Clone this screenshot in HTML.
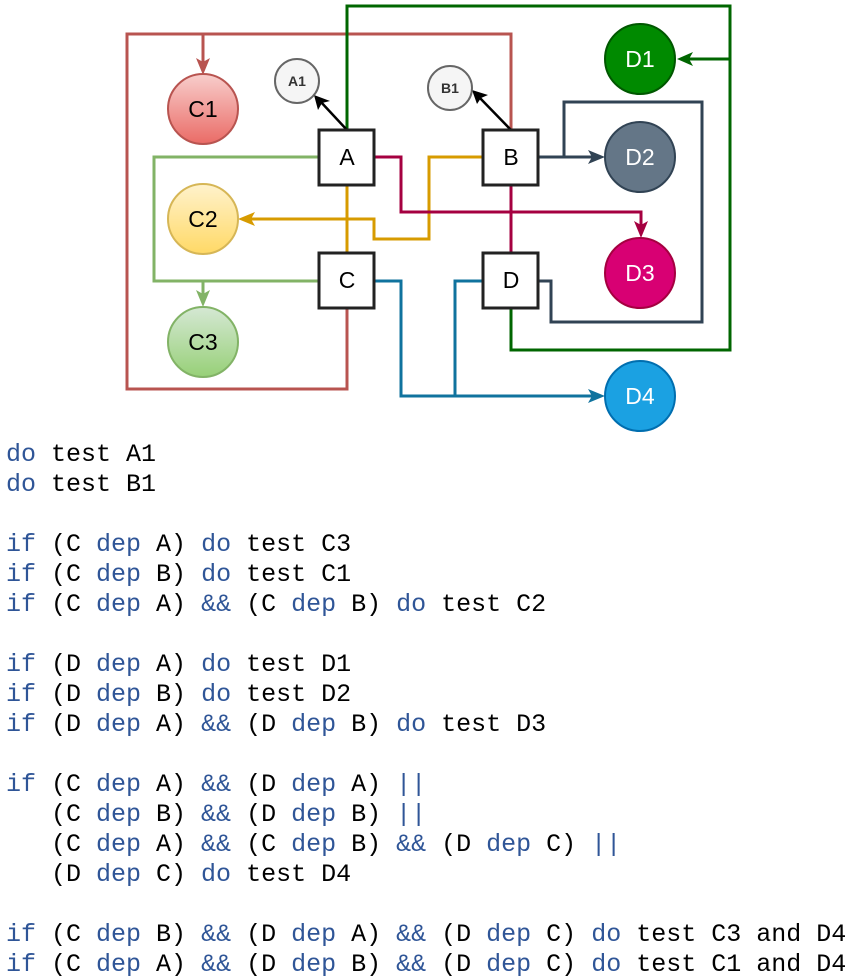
<!DOCTYPE html>
<html><head><meta charset="utf-8"><style>
html,body{margin:0;padding:0;background:#fff;width:854px;height:979px;overflow:hidden}
svg{position:absolute;left:0;top:0}
pre{position:absolute;left:6px;top:440px;margin:0;font-family:"Liberation Mono",monospace;font-size:25px;line-height:30px;color:#000}
.k{color:#2f5597}
</style></head><body>
<svg width="854" height="440" viewBox="0 0 854 440">
<defs>
<linearGradient id="g1" x1="0" y1="0" x2="0" y2="1"><stop offset="0" stop-color="#f8cecc"/><stop offset="1" stop-color="#ea6b66"/></linearGradient>
<linearGradient id="g2" x1="0" y1="0" x2="0" y2="1"><stop offset="0" stop-color="#fff2cc"/><stop offset="1" stop-color="#ffd966"/></linearGradient>
<linearGradient id="g3" x1="0" y1="0" x2="0" y2="1"><stop offset="0" stop-color="#d5e8d4"/><stop offset="1" stop-color="#97d077"/></linearGradient>
</defs>
<g fill="none" stroke-width="3">
<polyline points="347,308 347,389 127,389 127,34 511,34 511,130" stroke="#b85450"/>
<line x1="203" y1="34" x2="203" y2="66" stroke="#b85450"/>
<polyline points="347,130 347,6 730,6 730,350 511,350 511,308" stroke="#006600"/>
<line x1="730" y1="59" x2="686" y2="59" stroke="#006600"/>
<polyline points="319,157 154,157 154,281 319,281" stroke="#82b366"/>
<line x1="203" y1="281" x2="203" y2="299" stroke="#82b366"/>
<line x1="347" y1="185" x2="347" y2="253" stroke="#d79b00"/>
<polyline points="483,157 429,157 429,239 374,239 374,219 246,219" stroke="#d79b00"/>
<polyline points="374,157 401,157 401,212 641,212 641,229" stroke="#a50040"/>
<line x1="511" y1="185" x2="511" y2="253" stroke="#a50040"/>
<line x1="538" y1="157" x2="596" y2="157" stroke="#314354"/>
<polyline points="564,157 564,102 702,102 702,322 551,322 551,281 538,281" stroke="#314354"/>
<polyline points="374,281 401,281 401,396 596,396" stroke="#10739e"/>
<polyline points="483,281 455,281 455,396" stroke="#10739e"/>
<line x1="347" y1="130" x2="320" y2="101" stroke="#000" stroke-width="2.5"/>
<line x1="511" y1="130" x2="478" y2="96" stroke="#000" stroke-width="2.5"/>
</g>
<g stroke="none">
<polygon points="203,75 196,58 203,62 210,58" fill="#b85450"/>
<polygon points="677,59 693,52 689,59 693,66" fill="#006600"/>
<polygon points="203,307 196,290 203,294 210,290" fill="#82b366"/>
<polygon points="238,219 255,212 251,219 255,226" fill="#d79b00"/>
<polygon points="641,238 634,221 641,225 648,221" fill="#a50040"/>
<polygon points="605,157 588,150 592,157 588,164" fill="#314354"/>
<polygon points="605,396 588,389 592,396 588,403" fill="#10739e"/>
<polygon points="314,95 318,110 322,103 330,101" fill="#000"/>
<polygon points="472,90 477,104 481,98 488,95" fill="#000"/>
</g>
<g stroke-width="2" font-family="Liberation Sans,sans-serif" text-anchor="middle">
<circle cx="203" cy="109" r="35" fill="url(#g1)" stroke="#b85450"/>
<circle cx="203" cy="219" r="35" fill="url(#g2)" stroke="#d6b656"/>
<circle cx="203" cy="342" r="35" fill="url(#g3)" stroke="#82b366"/>
<circle cx="297" cy="81" r="22" fill="#f5f5f5" stroke="#666"/>
<circle cx="450" cy="88" r="22" fill="#f5f5f5" stroke="#666"/>
<circle cx="640" cy="59" r="35" fill="#008a00" stroke="#005700"/>
<circle cx="640" cy="157" r="35" fill="#647687" stroke="#314354"/>
<circle cx="640" cy="273" r="35" fill="#d80073" stroke="#a50040"/>
<circle cx="640" cy="396" r="35" fill="#1ba1e2" stroke="#006eaf"/>
<rect x="319" y="130" width="55" height="55" fill="#fff" stroke="#222" stroke-width="3"/>
<rect x="319" y="253" width="55" height="55" fill="#fff" stroke="#222" stroke-width="3"/>
<rect x="483" y="130" width="55" height="55" fill="#fff" stroke="#222" stroke-width="3"/>
<rect x="483" y="253" width="55" height="55" fill="#fff" stroke="#222" stroke-width="3"/>
<g stroke="none" font-size="23">
<text x="203" y="117">C1</text><text x="203" y="227">C2</text><text x="203" y="350">C3</text>
<text x="347" y="165">A</text><text x="347" y="288">C</text><text x="511" y="165">B</text><text x="511" y="288">D</text>
<g fill="#fff"><text x="640" y="67">D1</text><text x="640" y="165">D2</text><text x="640" y="281">D3</text><text x="640" y="404">D4</text></g>
<g font-size="14" font-weight="bold" fill="#333"><text x="297" y="86">A1</text><text x="450" y="93">B1</text></g>
</g>
</g>
</svg>
<pre><span class="k">do</span> test A1
<span class="k">do</span> test B1

<span class="k">if</span> (C <span class="k">dep</span> A) <span class="k">do</span> test C3
<span class="k">if</span> (C <span class="k">dep</span> B) <span class="k">do</span> test C1
<span class="k">if</span> (C <span class="k">dep</span> A) <span class="k">&amp;&amp;</span> (C <span class="k">dep</span> B) <span class="k">do</span> test C2

<span class="k">if</span> (D <span class="k">dep</span> A) <span class="k">do</span> test D1
<span class="k">if</span> (D <span class="k">dep</span> B) <span class="k">do</span> test D2
<span class="k">if</span> (D <span class="k">dep</span> A) <span class="k">&amp;&amp;</span> (D <span class="k">dep</span> B) <span class="k">do</span> test D3

<span class="k">if</span> (C <span class="k">dep</span> A) <span class="k">&amp;&amp;</span> (D <span class="k">dep</span> A) <span class="k">||</span>
   (C <span class="k">dep</span> B) <span class="k">&amp;&amp;</span> (D <span class="k">dep</span> B) <span class="k">||</span>
   (C <span class="k">dep</span> A) <span class="k">&amp;&amp;</span> (C <span class="k">dep</span> B) <span class="k">&amp;&amp;</span> (D <span class="k">dep</span> C) <span class="k">||</span>
   (D <span class="k">dep</span> C) <span class="k">do</span> test D4

<span class="k">if</span> (C <span class="k">dep</span> B) <span class="k">&amp;&amp;</span> (D <span class="k">dep</span> A) <span class="k">&amp;&amp;</span> (D <span class="k">dep</span> C) <span class="k">do</span> test C3 and D4
<span class="k">if</span> (C <span class="k">dep</span> A) <span class="k">&amp;&amp;</span> (D <span class="k">dep</span> B) <span class="k">&amp;&amp;</span> (D <span class="k">dep</span> C) <span class="k">do</span> test C1 and D4</pre>
</body></html>
